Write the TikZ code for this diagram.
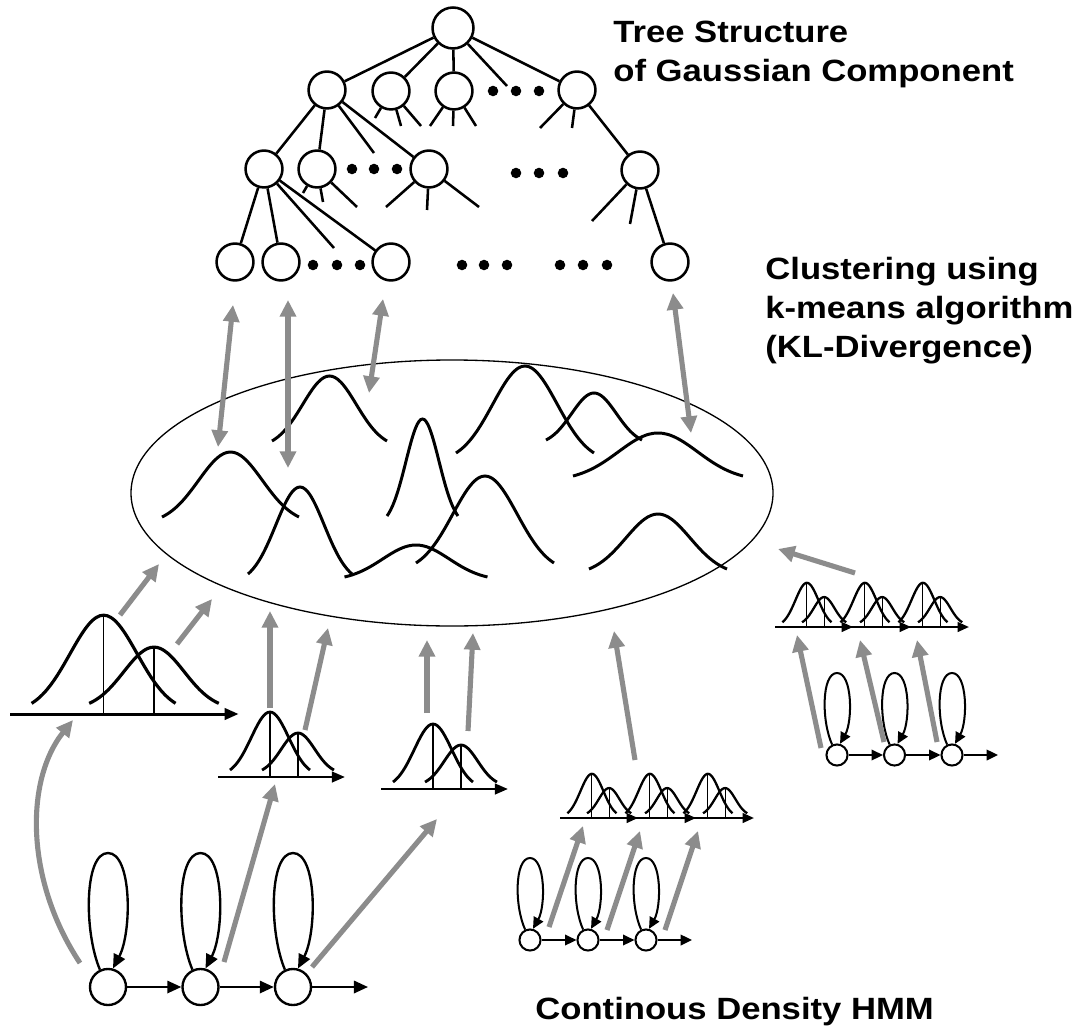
\documentclass[tikz,border=0pt]{standalone}
\usepackage{fontspec}
\setmainfont{Liberation Sans}
\usetikzlibrary{arrows.meta,calc}

\definecolor{arrowgray}{gray}{0.55}
\newcommand\stretched[1]{\scalebox{1.127}[1]{#1}}

% a bell curve: [style]{mu}{y of peak}{half width}{y of both ends}
\newcommand\bell[5][]{%
  \draw[#1] plot[domain=-1:1, samples=41, smooth]
    ({#2+#4*\x}, {#5-(#5-(#3))*(exp(-2.302585*\x*\x)-0.1)/0.9});}

% two overlapping Gaussians on an axis: {x0}{y axis}{xscale}{yscale}{size}
\newcommand\gpair[5]{%
  \begin{scope}[shift={(#1,#2)}, xscale=#3, yscale=#4]
    \bell[#5 gcurve]{52}{-65}{40}{-7}
    \bell[#5 gcurve]{80}{-44}{36}{-7}
    \draw[#5 gtick] (52,0) -- (52,-65);
    \draw[#5 gtick] (80,0) -- (80,-44);
    \draw[#5 gaxis] (0,0) -- (127,0);
  \end{scope}}

% left-to-right HMM with self loops: {name}{x1}{y}{dx}{size}{loop height}{loop half width}{x of last arrow}
\newcommand\hmm[8]{%
  \node[#5 state] (#1-1) at (#2,#3) {};
  \node[#5 state] (#1-2) at ({#2+#4},#3) {};
  \node[#5 state] (#1-3) at ({#2+2*#4},#3) {};
  \coordinate (#1-end) at (#8,#3);
  \draw[#5 trans] (#1-1) -- (#1-2);
  \draw[#5 trans] (#1-2) -- (#1-3);
  \draw[#5 trans] (#1-3) -- (#1-end);
  \foreach \s in {1,2,3} {
    \draw[#5 trans] (#1-\s.115)
      .. controls ($(#1-\s)+(-1.3*#7,-0.41*#6)$) and ($(#1-\s)+(-1.3*#7,-#6)$) .. ($(#1-\s)+(0,-#6)$)
      .. controls ($(#1-\s)+(1.3*#7,-#6)$) and ($(#1-\s)+(1.3*#7,-0.41*#6)$) .. (#1-\s.75);
  }}

\tikzset{
  treenode/.style={circle, draw, line width=1.45pt, minimum size=21pt, inner sep=0pt},
  rootnode/.style={treenode, minimum size=23.3pt},
  treeedge/.style={line width=1.45pt},
  tdot/.style={circle, fill, inner sep=0pt, minimum size=6pt},
  garrow/.style={draw=arrowgray, line width=2.9pt, -{Triangle[length=9.5pt,width=9pt]}},
  gdarrow/.style={garrow, {Triangle[length=9.5pt,width=9pt]}-{Triangle[length=9.5pt,width=9pt]}},
  bellline/.style={line width=1.7pt},
  big gcurve/.style={line width=1.8pt},
  big gtick/.style={line width=0.8pt},
  big gaxis/.style={line width=1.7pt, -{Triangle[length=8pt,width=6.5pt]}},
  mid gcurve/.style={line width=1.6pt},
  mid gtick/.style={line width=0.7pt},
  mid gaxis/.style={line width=1.5pt, -{Triangle[length=7.5pt,width=6pt]}},
  small gcurve/.style={line width=1.3pt},
  small gtick/.style={line width=0.6pt},
  small gaxis/.style={line width=1.3pt, -{Triangle[length=6.5pt,width=5.5pt]}},
  big state/.style={circle, draw, line width=1.35pt, minimum size=20.5pt, inner sep=0pt},
  big trans/.style={line width=1.35pt, -{Triangle[length=8pt,width=7pt]}},
  small state/.style={circle, draw, line width=1.15pt, minimum size=12pt, inner sep=0pt},
  small trans/.style={line width=1.15pt, -{Triangle[length=6.5pt,width=6pt]}},
  lbl/.style={inner sep=0pt, anchor=base west, font=\fontsize{17.5pt}{21pt}\selectfont\bfseries},
}

\begin{document}
\begin{tikzpicture}[x=0.02cm, y=-0.02cm]
\useasboundingbox (0,0) rectangle (1077,1030);
\fill[white] (0,0) rectangle (1077,1030);

% ---------- tree of Gaussian components ----------
\node[rootnode] (R) at (453,28) {};
\node[treenode] (A) at (327,90) {};
\node[treenode] (B) at (391,91) {};
\node[treenode] (C) at (454,91) {};
\node[treenode] (D) at (577,90) {};
\node[treenode] (G) at (264,169) {};
\node[treenode] (H) at (317,169) {};
\node[treenode] (I) at (429,169) {};
\node[treenode] (E) at (640,170) {};
\node[treenode] (P1) at (235,262) {};
\node[treenode] (P2) at (281,262) {};
\node[treenode] (P3) at (391,262) {};
\node[treenode] (P4) at (670,262) {};

\foreach \p in {(493,91),(516,91),(539,91),
                (352,169),(374,169),(397,169),(516,173),(539,173),(563,173),
                (313,265),(337,265),(360,265),(462,265),(484,265),(507,265),
                (560,265),(583,265),(607,265)}
  \node[tdot] at \p {};

\draw[treeedge] (R) -- (A);
\draw[treeedge] (R) -- (B);
\draw[treeedge] (R) -- (C);
\draw[treeedge] (R) -- (D);
\draw[treeedge] (R) -- (507,86);
\draw[treeedge] (A) -- (G);
\draw[treeedge] (A) -- (H);
\draw[treeedge] (A) -- (374,153);
\draw[treeedge] (A) -- (I);
\draw[treeedge] (D) -- (E);
\draw[treeedge] (D) -- (540,128);
\draw[treeedge] (D) -- (572,128);
\draw[treeedge] (B) -- (375,118);
\draw[treeedge] (B) -- (401,126);
\draw[treeedge] (B) -- (421,126);
\draw[treeedge] (C) -- (430,126);
\draw[treeedge] (C) -- (453,126);
\draw[treeedge] (C) -- (476,126);
\draw[treeedge] (G) -- (P1);
\draw[treeedge] (G) -- (P2);
\draw[treeedge] (G) -- (334,248);
\draw[treeedge] (G) -- (P3);
\draw[treeedge] (H) -- (303,193);
\draw[treeedge] (H) -- (323,202);
\draw[treeedge] (H) -- (357,207);
\draw[treeedge] (I) -- (386,207);
\draw[treeedge] (I) -- (427,210);
\draw[treeedge] (I) -- (479,207);
\draw[treeedge] (E) -- (P4);
\draw[treeedge] (E) -- (592,221);
\draw[treeedge] (E) -- (630,224);

% ---------- pool of Gaussians ----------
\draw[line width=0.75pt] (452,493) ellipse [x radius=321, y radius=133];
\bell[bellline]{329.5}{376}{57.5}{441}
\bell[bellline]{230.5}{452}{68.5}{517}
\bell[bellline]{422.5}{419}{35.5}{516}
\bell[bellline]{525}{366}{69}{453}
\bell[bellline]{594}{393}{48}{440}
\bell[bellline]{658}{433}{85}{476}
\bell[bellline]{300}{487}{52}{574}
\bell[bellline]{416}{545}{71.5}{577}
\bell[bellline]{485}{476}{69}{563}
\bell[bellline]{658}{514}{69}{569}

% ---------- output distributions ----------
\gpair{10}{714}{1.8}{1.52}{big}
\gpair{218}{777}{1}{1}{mid}
\gpair{381}{789}{1}{1}{mid}
\foreach \k in {0,1,2} {
  \gpair{560+58*\k}{818}{0.614}{0.68}{small}
  \gpair{775+58*\k}{627}{0.614}{0.68}{small}
}

% ---------- HMMs ----------
\hmm{hA}{108}{987}{92.5}{big}{134}{18.5}{368}
\hmm{hB}{530}{940}{58}{small}{82}{12}{692}
\hmm{hC}{837}{755}{57.5}{small}{82}{12}{998}

% ---------- gray arrows ----------
\draw[gdarrow] (233,305) -- (218,447);
\draw[gdarrow] (288,300) -- (288,468);
\draw[gdarrow] (383,299) -- (369,393);
\draw[gdarrow] (673,293) -- (691,433);

\draw[garrow] (120,615) -- (159,564);
\draw[garrow] (177,644) -- (212,599);
\draw[garrow] (270,708) -- (270,611);
\draw[garrow] (305,730) -- (328,628);
\draw[garrow] (427,713) -- (427,640);
\draw[garrow] (468,731) -- (473,633);
\draw[garrow] (635,760) -- (614,631);
\draw[garrow] (855,573) -- (778,549);

\draw[garrow] (80,963) .. controls (25,880) and (25,780) .. (73,720);
\draw[garrow] (224,962) -- (275,784);
\draw[garrow] (312,967) -- (437,819);
\draw[garrow] (549,927) -- (583,826);
\draw[garrow] (607,930) -- (640,831);
\draw[garrow] (665,930) -- (698,831);
\draw[garrow] (821,748) -- (797,635);
\draw[garrow] (884,742) -- (860,640);
\draw[garrow] (937,742) -- (917,640);

% ---------- labels ----------
\node[lbl] (t1) at (613,43) {\stretched{Tree Structure}};
\node[lbl] (t2) at (613,82) {\stretched{of Gaussian Component}};
\node[lbl] (c1) at (765,279) {\stretched{Clustering using}};
\node[lbl] (c2) at (765,318) {\stretched{k-means algorithm}};
\node[lbl] (c3) at (765,357) {\stretched{(KL-Divergence)}};
\node[lbl] (h1) at (535,1019) {\stretched{Continous Density HMM}};
\end{tikzpicture}
\end{document}
